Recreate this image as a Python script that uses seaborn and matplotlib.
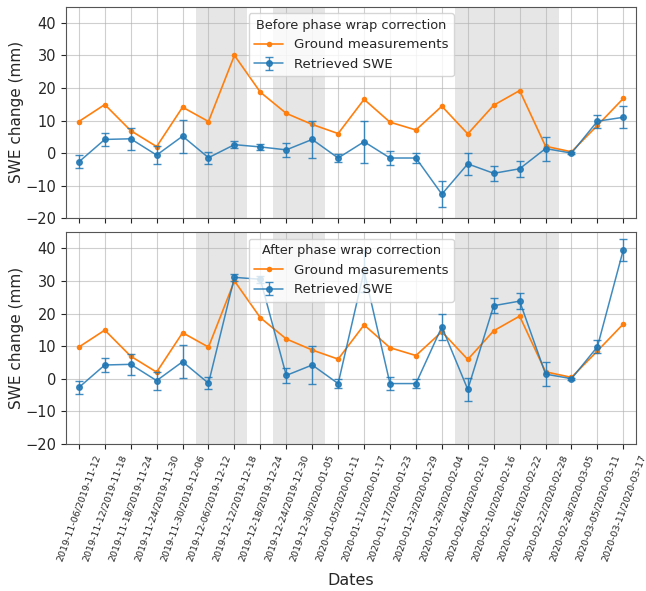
import matplotlib
matplotlib.use("Agg")
import matplotlib.pyplot as plt
import numpy as np
import seaborn as sns

# start dates of each 6-day interval
starts = ["2019-11-06", "2019-11-12", "2019-11-18", "2019-11-24", "2019-11-30",
          "2019-12-06", "2019-12-12", "2019-12-18", "2019-12-24", "2019-12-30",
          "2020-01-05", "2020-01-11", "2020-01-17", "2020-01-23", "2020-01-29",
          "2020-02-04", "2020-02-10", "2020-02-16", "2020-02-22", "2020-02-28",
          "2020-03-05", "2020-03-11"]
ends = starts[1:] + ["2020-03-17"]
date_labels = [f"{a}/{b}" for a, b in zip(starts, ends)]

ground = [9.7, 14.9, 6.9, 2.0, 14.1, 9.7, 30.0, 18.7, 12.2, 8.8, 6.0,
          16.5, 9.5, 7.1, 14.4, 5.9, 14.7, 19.2, 2.1, 0.4, 8.5, 16.8]

swe_before = [-2.7, 4.2, 4.4, -0.6, 5.2, -1.4, 2.6, 1.9, 1.0, 4.2, -1.5,
              3.5, -1.5, -1.5, -12.6, -3.3, -6.2, -4.8, 1.4, 0.0, 9.8, 11.0]
swe_after = [-2.7, 4.2, 4.4, -0.6, 5.2, -1.4, 31.1, 30.5, 1.0, 4.2, -1.5,
             33.0, -1.5, -1.5, 15.9, -3.3, 22.4, 23.8, 1.4, 0.0, 9.8, 39.6]
swe_err = [2.0, 2.0, 3.3, 2.8, 5.1, 1.8, 1.1, 1.0, 2.2, 5.7, 1.3,
           6.4, 2.1, 1.4, 3.9, 3.4, 2.3, 2.5, 3.7, 0.3, 2.0, 3.4]

# shaded intervals (first and last interval index, inclusive)
shaded = [(5, 6), (8, 9), (15, 18)]

titles = ["Before phase wrap correction", "After phase wrap correction"]

sns.set_style("ticks")
plt.rcParams["font.family"] = ["DejaVu Sans"]

fig, axes = plt.subplots(2, 1, figsize=(6.46, 5.91), dpi=100, sharex=True)
fig.subplots_adjust(left=0.102, right=0.985, top=0.989, bottom=0.249, hspace=0.065)

x = np.arange(len(date_labels))
blue = "#1f77b4"

for ax, swe, title in zip(axes, [swe_before, swe_after], titles):
    for a, b in shaded:
        ax.axvspan(a - 0.5, b + 0.5, color="#e6e6e6", lw=0, zorder=0)
    sns.lineplot(x=x, y=ground, ax=ax, color="#ff7f0e", marker="o",
                 markersize=4, markeredgewidth=0, linewidth=1.2,
                 label="Ground measurements")
    ax.errorbar(x, swe, yerr=swe_err, color=blue, marker="o",
                markersize=4, linewidth=1.1, elinewidth=1.0, capsize=3,
                ecolor=(0.12, 0.47, 0.71, 0.55), alpha=0.85,
                label="Retrieved SWE")
    ax.set_ylim(-20, 45)
    ax.set_yticks([-20, -10, 0, 10, 20, 30, 40])
    ax.set_xlim(-0.5, len(date_labels) - 0.5)
    ax.grid(True, color="#b0b0b0", linewidth=0.8, alpha=0.6)
    ax.set_ylabel("SWE change (mm)", fontsize=11, labelpad=1)
    ax.tick_params(axis="y", labelsize=10.5)
    ax.legend(title=title, loc="upper center", fontsize=9.6,
              title_fontsize=9.3, framealpha=0.8, handlelength=2.2)
    for s in ax.spines.values():
        s.set_color("#555555")

axes[1].set_xticks(x)
axes[1].set_xticklabels(date_labels, rotation=70, fontsize=6.8)
axes[1].set_xlabel("Dates", fontsize=11.5, labelpad=7)

fig.savefig("out.png", dpi=100)
